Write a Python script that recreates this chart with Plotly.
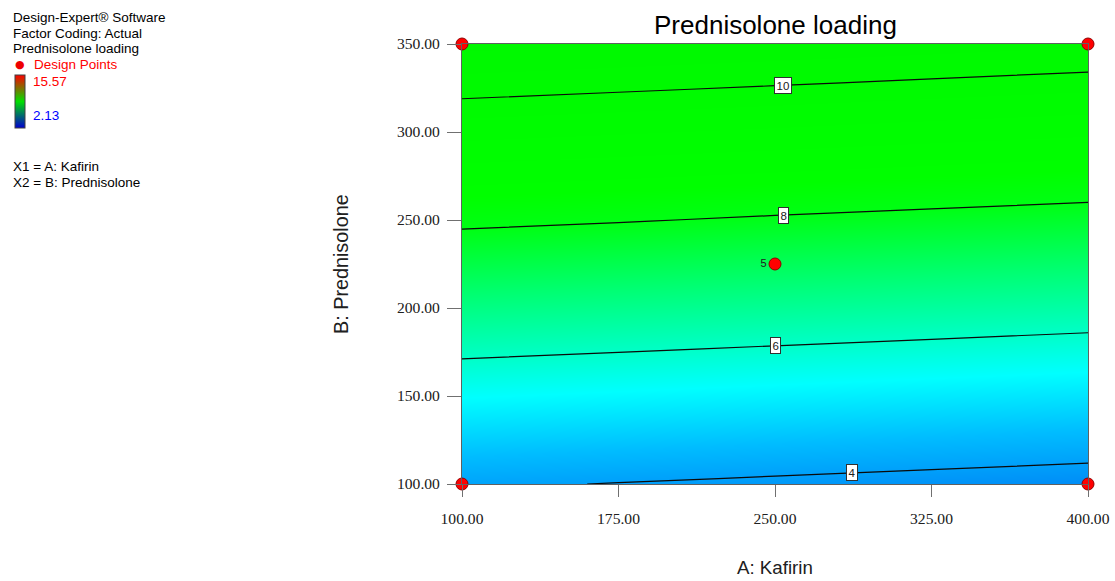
import numpy as np
import plotly.graph_objects as go

# ---- data ----
kafirin = [100, 175, 250, 325, 400]            # A: Kafirin (x grid)
prednisolone = [100, 150, 200, 250, 300, 350]  # B: Prednisolone (y grid)
# Prednisolone loading estimated on the grid (rows = prednisolone, cols = kafirin)
loading = [
    [4.08, 3.98, 3.88, 3.78, 3.68],
    [5.43, 5.33, 5.23, 5.13, 5.03],
    [6.78, 6.68, 6.58, 6.48, 6.38],
    [8.14, 8.04, 7.93, 7.83, 7.73],
    [9.49, 9.39, 9.29, 9.18, 9.08],
    [10.84, 10.74, 10.64, 10.54, 10.43],
]
contour_levels = [10, 8, 6, 4]
label_kafirin = [254, 254, 250, 287]     # where each contour label sits along A

design_A = [100, 100, 400, 400, 250]
design_B = [100, 350, 100, 350, 225]
design_text = ["", "", "", "", "5"]

response_min, response_max = 2.13, 15.57
x_ticks = [100, 175, 250, 325, 400]
y_ticks = [100, 150, 200, 250, 300, 350]

# ---- layout geometry (pixels) ----
W, H = 1115, 581
L, R, T, B = 462, 1088, 44, 484


def px(x):
    return x / W


def py(y):
    return 1 - y / H


fill_scale = [
    [0.0, "#0088f6"],
    [0.123, "#00bcff"],
    [0.247, "#00ffff"],
    [0.329, "#00ffc8"],
    [0.466, "#00ff70"],
    [0.603, "#00ff14"],
    [0.671, "#00ff00"],
    [1.0, "#00f800"],
]

fig = go.Figure()
fig.add_trace(go.Contour(
    x=kafirin, y=prednisolone, z=loading,
    zmin=3.6, zmax=10.9,
    colorscale=fill_scale, showscale=False,
    contours=dict(coloring="heatmap", start=4, end=10, size=2, showlabels=False),
    line=dict(color="#0a0a0a", width=1.2),
    hoverinfo="skip",
))

# legend colour bar (dummy trace carries the design range gradient)
fig.add_trace(go.Scatter(
    x=[None, None], y=[None, None], mode="markers",
    marker=dict(
        color=[response_min, response_max], cmin=response_min, cmax=response_max,
        colorscale=[[0, "#0000d0"], [0.5, "#00e000"], [1, "#ff0000"]],
        showscale=True,
        colorbar=dict(
            x=px(15), xanchor="left", y=py(101), yanchor="middle",
            len=53, lenmode="pixels", thickness=10, thicknessmode="pixels",
            outlinewidth=1, outlinecolor="#404040", showticklabels=False,
            ticks="", xpad=0, ypad=0,
        ),
    ),
    showlegend=False, hoverinfo="skip",
))

# design points
fig.add_trace(go.Scatter(
    x=design_A, y=design_B, mode="markers+text",
    text=design_text, textposition="middle left",
    textfont=dict(family="Liberation Sans", size=11, color="#202020"),
    marker=dict(color="#ff0000", size=12, line=dict(color="#900000", width=1)),
    cliponaxis=False, showlegend=False, hoverinfo="skip",
))

annotations = []
# contour labels, positioned on the contour by interpolating the grid
Z = np.array(loading)
for lev, a in zip(contour_levels, label_kafirin):
    zcol = np.array([np.interp(a, kafirin, row) for row in Z])
    b = float(np.interp(lev, zcol, prednisolone))
    annotations.append(dict(
        x=a, y=b, xref="x", yref="y", text=str(lev), showarrow=False,
        font=dict(family="Liberation Sans", size=11.5, color="#202020"),
        bgcolor="white", bordercolor="#303030", borderwidth=1, borderpad=1.5,
    ))

legend_lines = [
    ("Design-Expert® Software", 12, 17, "black"),
    ("Factor Coding: Actual", 12, 33, "black"),
    ("Prednisolone loading", 12, 49, "black"),
    ("Design Points", 33, 65, "#ff0000"),
    ("15.57", 32, 82, "#ff0000"),
    ("2.13", 32, 116, "#0000ff"),
    ("X1 = A: Kafirin", 12, 166, "black"),
    ("X2 = B: Prednisolone", 12, 182, "black"),
]
for txt, x0, y0, col in legend_lines:
    annotations.append(dict(
        x=px(x0), y=py(y0), xref="paper", yref="paper", xanchor="left", yanchor="middle",
        text=txt, showarrow=False, borderpad=0,
        font=dict(family="Liberation Sans", size=13.5, color=col),
    ))
annotations.append(dict(
    x=px(20), y=py(65), xref="paper", yref="paper", xanchor="center", yanchor="middle",
    text="●", showarrow=False, font=dict(family="DejaVu Sans", size=11, color="#ee0000"),
))
# axis titles
annotations.append(dict(
    x=px(341), y=py(264), xref="paper", yref="paper", xanchor="center", yanchor="middle",
    text="B: Prednisolone", textangle=-90, showarrow=False,
    font=dict(family="Liberation Sans", size=19.8, color="#202020"),
))
annotations.append(dict(
    x=px(775), y=py(567), xref="paper", yref="paper", xanchor="center", yanchor="middle",
    text="A: Kafirin", showarrow=False,
    font=dict(family="Liberation Sans", size=18.7, color="#202020"),
))
annotations.append(dict(
    x=px(775), y=py(25), xref="paper", yref="paper", xanchor="center", yanchor="middle",
    text="Prednisolone loading", showarrow=False,
    font=dict(family="Liberation Sans", size=26, color="black"),
))

axis_common = dict(
    showline=True, linecolor="#606060", linewidth=1, mirror=True,
    ticks="outside", tickcolor="#707070", tickwidth=1,
    showgrid=False, zeroline=False, automargin=False,
    tickfont=dict(family="Liberation Serif", size=15.6, color="#202020"),
    tickformat=".2f",
)

fig.update_layout(
    width=W, height=H,
    margin=dict(l=0, r=0, t=0, b=0, pad=0, autoexpand=False),
    paper_bgcolor="white", plot_bgcolor="white",
    xaxis=dict(range=[100, 400], tickvals=x_ticks, ticklen=12,
               domain=[px(L), px(R)], ticklabelstandoff=8, **axis_common),
    yaxis=dict(range=[100, 350], tickvals=y_ticks, ticklen=14,
               domain=[py(B), py(T)], ticklabelstandoff=4, **axis_common),
    annotations=annotations,
    showlegend=False,
)

fig.write_html("out.html", config={"displayModeBar": False},
               post_script="document.body.style.margin='0px';")
